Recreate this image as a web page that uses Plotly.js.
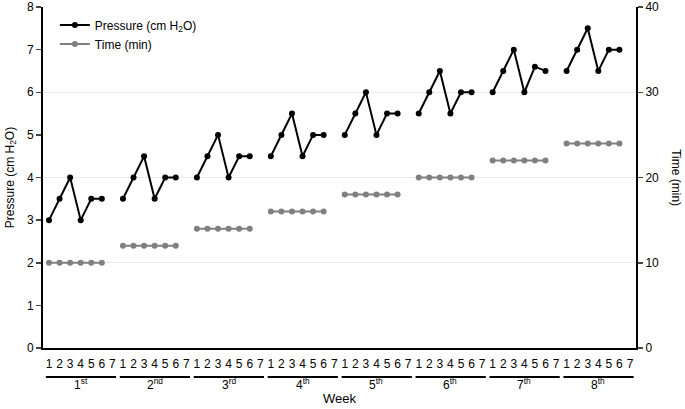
<!DOCTYPE html>
<html>
<head>
<meta charset="utf-8">
<script src="https://cdn.plot.ly/plotly-3.0.1.min.js"></script>
<style>
  body { margin: 0; background: #fff; }
  #chart { width: 685px; height: 409px; }
</style>
</head>
<body>
<div id="chart"></div>
<script>
// days in every week, and the week names under them
var days = ["1", "2", "3", "4", "5", "6", "7"];
var weeks = ["1<sup>st</sup>", "2<sup>nd</sup>", "3<sup>rd</sup>", "4<sup>th</sup>",
             "5<sup>th</sup>", "6<sup>th</sup>", "7<sup>th</sup>", "8<sup>th</sup>"];

// pressure (cm H2O), days 1-6 of each week
var pressure = [
  [3, 3.5, 4, 3, 3.5, 3.5],
  [3.5, 4, 4.5, 3.5, 4, 4],
  [4, 4.5, 5, 4, 4.5, 4.5],
  [4.5, 5, 5.5, 4.5, 5, 5],
  [5, 5.5, 6, 5, 5.5, 5.5],
  [5.5, 6, 6.5, 5.5, 6, 6],
  [6, 6.5, 7, 6, 6.6, 6.5],
  [6.5, 7, 7.5, 6.5, 7, 7]
];
// time (min), days 1-6 of each week
var timeMin = [
  [10, 10, 10, 10, 10, 10],
  [12, 12, 12, 12, 12, 12],
  [14, 14, 14, 14, 14, 14],
  [16, 16, 16, 16, 16, 16],
  [18, 18, 18, 18, 18, 18],
  [20, 20, 20, 20, 20, 20],
  [22, 22, 22, 22, 22, 22],
  [24, 24, 24, 24, 24, 24]
];

var px = [], py = [], tx = [], ty = [];
pressure.forEach(function (wk, w) {
  wk.forEach(function (v, d) { px.push(w * 7 + d + 1); py.push(v); });
  px.push(null); py.push(null);
});
timeMin.forEach(function (wk, w) {
  wk.forEach(function (v, d) { tx.push(w * 7 + d + 1); ty.push(v); });
  tx.push(null); ty.push(null);
});

var tickVals = [], tickText = [];
weeks.forEach(function (name, w) {
  days.forEach(function (d, i) { tickVals.push(w * 7 + i + 1); tickText.push(d); });
});

var traces = [
  {
    x: px, y: py, name: "Pressure (cm H<sub>2</sub>O)", type: "scatter", mode: "lines+markers",
    line: { color: "#000", width: 2 }, marker: { color: "#000", size: 6 }, connectgaps: false
  },
  {
    x: tx, y: ty, name: "Time (min)", type: "scatter", mode: "lines+markers", yaxis: "y2",
    line: { color: "#808080", width: 2 }, marker: { color: "#808080", size: 6 }, connectgaps: false
  }
];

var shapes = [], annotations = [];
weeks.forEach(function (name, w) {
  shapes.push({
    type: "line", xref: "x", yref: "paper",
    x0: w * 7 + 0.7, x1: w * 7 + 7.35, y0: -0.085, y1: -0.085,
    line: { color: "#000", width: 2 }
  });
  annotations.push({
    text: name, xref: "x", yref: "paper", x: w * 7 + 4, y: -0.105,
    yanchor: "middle", showarrow: false, font: { size: 12, color: "#000" }
  });
});
annotations.push({
  text: "Week", xref: "paper", yref: "paper", x: 0.5, y: -0.148, yanchor: "middle",
  showarrow: false, font: { size: 13, color: "#000" }
});
annotations.push({
  text: "Time (min)", xref: "paper", yref: "paper", x: 1.068, y: 0.5, textangle: 90,
  xanchor: "center", yanchor: "middle",
  showarrow: false, font: { size: 12, color: "#000" }
});

var layout = {
  width: 685, height: 409,
  margin: { l: 43, r: 49, t: 7, b: 61 },
  font: { family: "Liberation Sans, Arial, sans-serif", size: 12, color: "#000" },
  paper_bgcolor: "#fff", plot_bgcolor: "#fff",
  showlegend: true,
  legend: { x: 0.02, y: 0.99, xanchor: "left", yanchor: "top", bgcolor: "rgba(0,0,0,0)", font: { size: 12 } },
  xaxis: {
    range: [0.43, 56.57], tickvals: tickVals, ticktext: tickText, ticks: "outside", ticklen: 4,
    tickcolor: "rgba(0,0,0,0)", showline: true, linecolor: "#000", linewidth: 2,
    showgrid: false, zeroline: false, tickfont: { size: 12 }
  },
  yaxis: {
    title: { text: "Pressure (cm H<sub>2</sub>O)", font: { size: 12 }, standoff: 10 },
    range: [0, 8], dtick: 1, ticks: "outside", ticklen: 5, tickwidth: 1.5,
    showline: true, linecolor: "#000", linewidth: 2, showgrid: false, zeroline: false
  },
  yaxis2: {
    overlaying: "y", side: "right", range: [0, 40], dtick: 10, ticks: "outside", ticklen: 5,
    tickwidth: 1.5, showline: true, linecolor: "#000", linewidth: 2,
    showgrid: true, gridcolor: "#ebebeb", gridwidth: 1, zeroline: false
  },
  shapes: shapes,
  annotations: annotations
};

Plotly.newPlot("chart", traces, layout, { displayModeBar: false, staticPlot: true });
</script>
</body>
</html>
